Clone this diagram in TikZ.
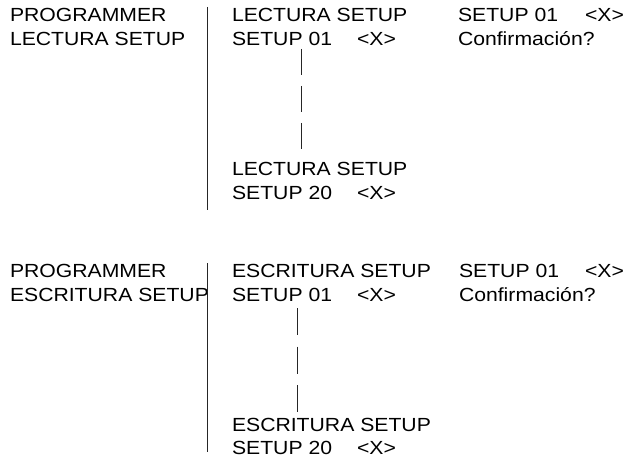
\documentclass[tikz,border=0pt]{standalone}
\usepackage{fontspec}
\setmainfont{Liberation Sans}
\begin{document}
\begin{tikzpicture}[x=1pt,y=-1pt,
  txt/.style={anchor=base west,inner sep=0pt,outer sep=0pt,xscale=1.115,
    font=\fontsize{19}{22}\selectfont},
  sep/.style={line width=0.9pt,black!85},
  dots1/.style={line width=0.9pt,black!85,dash pattern=on 26 off 11},
  dots2/.style={line width=0.9pt,black!85,dash pattern=on 27 off 11.5}]
\useasboundingbox (0,0) rectangle (626,465);
% ---- top block ----
\node[txt] (p1) at (10,21.7) {PROGRAMMER};
\node[txt] (p2) at (10,46) {LECTURA SETUP};
\node[txt] (m1) at (232,21.7) {LECTURA SETUP};
\node[txt] (m2) at (232,46) {SETUP 01};
\node[txt] (m2x) at (357,46) {<X>};
\node[txt] (m3) at (232,175.7) {LECTURA SETUP};
\node[txt] (m4) at (232,199.5) {SETUP 20};
\node[txt] (m4x) at (357,199.5) {<X>};
\node[txt] (r1) at (458,21.7) {SETUP 01};
\node[txt] (r1x) at (585,21.7) {<X>};
\node[txt] (r2) at (458,46) {Confirmación?};
\coordinate (s1a) at (207.3,7);
\coordinate (s1b) at (207.3,210);
\coordinate (d1a) at (301,49);
\coordinate (d1b) at (301,150.5);
\draw[sep] (s1a) -- (s1b);
\draw[dots1] (d1a) -- (d1b);
% ---- bottom block ----
\node[txt] (q1) at (10,277.3) {PROGRAMMER};
\node[txt] (q2) at (10,301.7) {ESCRITURA SETUP};
\node[txt] (n1) at (232,277.3) {ESCRITURA SETUP};
\node[txt] (n2) at (232,301.7) {SETUP 01};
\node[txt] (n2x) at (357,301.7) {<X>};
\node[txt] (n3) at (232,431) {ESCRITURA SETUP};
\node[txt] (n4) at (232,454.5) {SETUP 20};
\node[txt] (n4x) at (357,454.5) {<X>};
\node[txt] (t1) at (459,277.3) {SETUP 01};
\node[txt] (t1x) at (585,277.3) {<X>};
\node[txt] (t2) at (459,301.7) {Confirmación?};
\coordinate (s2a) at (207.3,263);
\coordinate (s2b) at (207.3,452);
\coordinate (d2a) at (297.5,308);
\coordinate (d2b) at (297.5,412);
\draw[sep] (s2a) -- (s2b);
\draw[dots2] (d2a) -- (d2b);
\end{tikzpicture}
\end{document}
